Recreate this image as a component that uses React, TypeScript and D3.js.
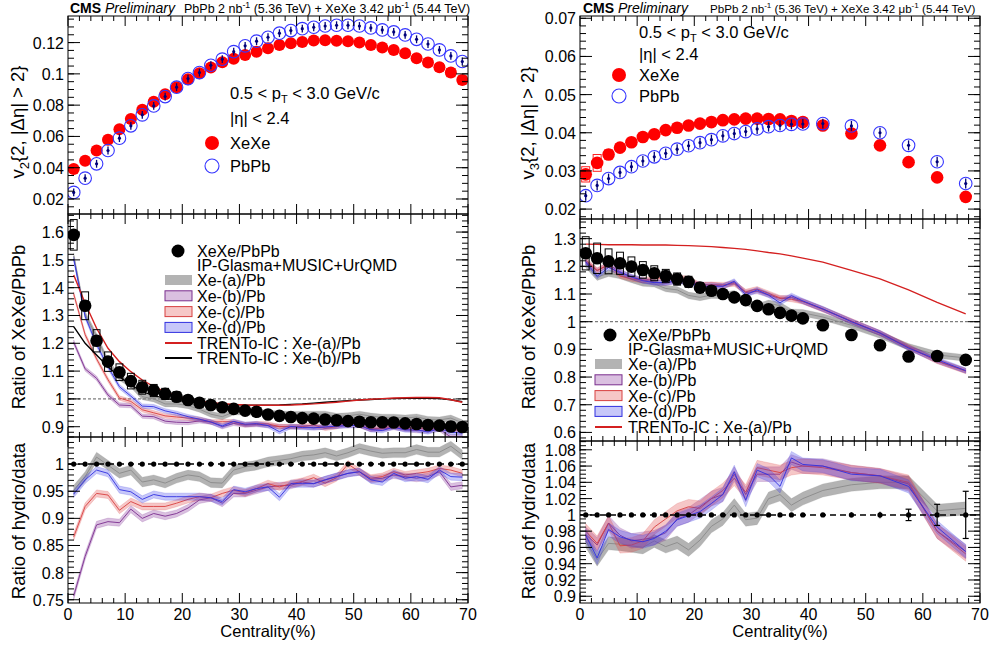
import React, { useRef, useEffect } from 'react';
import * as d3 from 'd3';

const W = 999;
const H = 645;
const FONT = '"Liberation Sans", Arial, Helvetica, sans-serif';

// centrality bin centres (%)
const centL = [1, 3, 5, 7, 9, 11, 13, 15, 17, 19, 21, 23, 25, 27, 29, 31, 33, 35, 37, 39, 41, 43, 45, 47, 49, 51, 53, 55, 57, 59, 61, 63, 65, 67, 69];
const centR = [1, 3, 5, 7, 9, 11, 13, 15, 17, 19, 21, 23, 25, 27, 29, 31, 33, 35, 37, 39, 42.5, 47.5, 52.5, 57.5, 62.5, 67.5];

// tick labels
const centTicks = [0, 10, 20, 30, 40, 50, 60, 70];
const v2Ticks = [0.02, 0.04, 0.06, 0.08, 0.1, 0.12];
const ratioV2Ticks = [0.9, 1, 1.1, 1.2, 1.3, 1.4, 1.5, 1.6];
const hydroV2Ticks = [0.75, 0.8, 0.85, 0.9, 0.95, 1];
const v3Ticks = [0.02, 0.03, 0.04, 0.05, 0.06, 0.07];
const ratioV3Ticks = [0.6, 0.7, 0.8, 0.9, 1, 1.1, 1.2, 1.3];
const hydroV3Ticks = [0.9, 0.92, 0.94, 0.96, 0.98, 1, 1.02, 1.04, 1.06, 1.08];

// ---- v2 (left column) ----
const v2XeXe = [0.0391, 0.0444, 0.051, 0.0578, 0.0646, 0.0712, 0.077, 0.0821, 0.087, 0.0915, 0.0966, 0.1004, 0.104, 0.1074, 0.1096, 0.1121, 0.1142, 0.1164, 0.1185, 0.1196, 0.1204, 0.1213, 0.1215, 0.1211, 0.1209, 0.12, 0.1185, 0.1168, 0.1153, 0.1132, 0.11, 0.1072, 0.1042, 0.1008, 0.0961];
const v2XeXeSys = [0.001, 0.001, 0.001, 0.001, 0.001, 0.001, 0.001, 0.001, 0.001, 0.001, 0.001, 0.001, 0.001, 0.001, 0.001, 0.001, 0.001, 0.001, 0.001, 0.001, 0.001, 0.001, 0.001, 0.001, 0.001, 0.0012, 0.0014, 0.0015, 0.0016, 0.0018, 0.002, 0.0022, 0.0024, 0.0026, 0.0026];
const v2PbPb = [0.0242, 0.0333, 0.0425, 0.051, 0.0589, 0.0668, 0.0738, 0.0795, 0.0855, 0.0915, 0.097, 0.1008, 0.1055, 0.1094, 0.1142, 0.1179, 0.1209, 0.1234, 0.126, 0.1277, 0.1289, 0.1298, 0.1306, 0.1311, 0.1311, 0.1306, 0.1294, 0.1281, 0.1268, 0.1249, 0.1221, 0.1191, 0.1153, 0.1115, 0.1079];
const v2PbErr = 0.0025;

const ratioV2 = [1.59, 1.335, 1.209, 1.134, 1.096, 1.064, 1.042, 1.03, 1.018, 1.008, 0.996, 0.986, 0.978, 0.97, 0.964, 0.958, 0.954, 0.944, 0.939, 0.935, 0.931, 0.929, 0.926, 0.923, 0.92, 0.918, 0.916, 0.916, 0.915, 0.912, 0.91, 0.906, 0.904, 0.901, 0.899];
const ratioV2Sys = [0.055, 0.05, 0.04, 0.035, 0.03, 0.028, 0.025, 0.022, 0.02, 0.018, 0.016, 0.015, 0.014, 0.013, 0.012, 0.011, 0.01, 0.01, 0.01, 0.01, 0.01, 0.01, 0.01, 0.01, 0.01, 0.011, 0.012, 0.012, 0.012, 0.013, 0.014, 0.014, 0.015, 0.016, 0.016];

const v2ModelA = [1.514, 1.304, 1.225, 1.132, 1.077, 1.052, 1.008, 1.0, 0.982, 0.982, 0.976, 0.963, 0.945, 0.936, 0.953, 0.953, 0.952, 0.948, 0.946, 0.944, 0.945, 0.945, 0.945, 0.937, 0.939, 0.945, 0.938, 0.934, 0.934, 0.931, 0.935, 0.926, 0.924, 0.931, 0.914];
const v2ModelB = [1.204, 1.108, 1.074, 1.014, 0.978, 0.976, 0.938, 0.936, 0.92, 0.916, 0.915, 0.921, 0.917, 0.9, 0.912, 0.906, 0.908, 0.904, 0.901, 0.899, 0.9, 0.896, 0.899, 0.902, 0.904, 0.905, 0.89, 0.892, 0.897, 0.891, 0.886, 0.885, 0.891, 0.863, 0.864];
const v2ModelC = [1.377, 1.231, 1.144, 1.069, 1.003, 0.991, 0.961, 0.95, 0.939, 0.935, 0.931, 0.927, 0.917, 0.918, 0.918, 0.907, 0.911, 0.91, 0.9, 0.901, 0.901, 0.906, 0.894, 0.9, 0.92, 0.905, 0.892, 0.895, 0.902, 0.894, 0.895, 0.893, 0.897, 0.891, 0.884];
const v2ModelD = [1.503, 1.296, 1.196, 1.115, 1.044, 1.01, 0.974, 0.972, 0.957, 0.948, 0.936, 0.927, 0.917, 0.903, 0.919, 0.909, 0.911, 0.904, 0.882, 0.901, 0.897, 0.896, 0.899, 0.902, 0.904, 0.905, 0.889, 0.886, 0.899, 0.888, 0.889, 0.881, 0.894, 0.88, 0.877];
const v2TrentoA = [1.446, 1.344, 1.254, 1.182, 1.134, 1.098, 1.068, 1.044, 1.026, 1.012, 1.0, 0.992, 0.987, 0.983, 0.98, 0.978, 0.977, 0.977, 0.977, 0.978, 0.98, 0.982, 0.985, 0.988, 0.992, 0.996, 0.999, 1.001, 1.003, 1.004, 1.005, 1.005, 1.004, 0.997, 0.988];
const v2TrentoB = [1.26, 1.2, 1.158, 1.116, 1.08, 1.05, 1.026, 1.012, 1.002, 0.995, 0.99, 0.986, 0.983, 0.981, 0.98, 0.978, 0.977, 0.977, 0.978, 0.98, 0.982, 0.985, 0.988, 0.991, 0.994, 0.996, 0.998, 1.0, 1.001, 1.002, 1.002, 1.002, 1.001, 0.997, 0.99];

const v2HydroA = [0.952, 0.977, 1.013, 0.998, 0.983, 0.989, 0.967, 0.971, 0.965, 0.974, 0.98, 0.977, 0.966, 0.965, 0.989, 0.995, 0.998, 1.004, 1.007, 1.01, 1.015, 1.017, 1.021, 1.015, 1.021, 1.029, 1.024, 1.02, 1.021, 1.021, 1.027, 1.022, 1.022, 1.033, 1.017];
const v2HydroB = [0.757, 0.83, 0.888, 0.894, 0.892, 0.917, 0.9, 0.909, 0.904, 0.909, 0.919, 0.934, 0.938, 0.928, 0.946, 0.946, 0.952, 0.958, 0.96, 0.961, 0.967, 0.964, 0.971, 0.977, 0.983, 0.986, 0.972, 0.974, 0.98, 0.977, 0.974, 0.977, 0.986, 0.958, 0.961];
const v2HydroC = [0.866, 0.922, 0.946, 0.943, 0.915, 0.931, 0.922, 0.922, 0.922, 0.928, 0.935, 0.94, 0.938, 0.946, 0.952, 0.947, 0.955, 0.964, 0.958, 0.964, 0.968, 0.975, 0.965, 0.975, 1.0, 0.986, 0.974, 0.977, 0.986, 0.98, 0.983, 0.986, 0.992, 0.989, 0.983];
const v2HydroD = [0.945, 0.971, 0.989, 0.983, 0.953, 0.949, 0.935, 0.944, 0.94, 0.94, 0.94, 0.94, 0.938, 0.931, 0.953, 0.949, 0.955, 0.958, 0.939, 0.964, 0.964, 0.964, 0.971, 0.977, 0.983, 0.986, 0.971, 0.967, 0.983, 0.974, 0.977, 0.972, 0.989, 0.977, 0.976];

// ---- v3 (right column) ----
const v3XeXe = [0.0291, 0.0321, 0.0343, 0.0361, 0.0375, 0.0389, 0.0396, 0.0407, 0.0413, 0.0419, 0.0424, 0.0428, 0.0433, 0.0435, 0.0437, 0.0437, 0.0436, 0.0435, 0.0431, 0.0428, 0.0419, 0.0398, 0.0367, 0.0323, 0.0283, 0.0232];
const v3XeXeSys = [0.002, 0.0022, 0.0012, 0.001, 0.0008, 0.0007, 0.0007, 0.0006, 0.0006, 0.0006, 0.0006, 0.0006, 0.0006, 0.0006, 0.0006, 0.0006, 0.0006, 0.0006, 0.0006, 0.0006, 0.0006, 0.0006, 0.0006, 0.0006, 0.0006, 0.0006];
const v3PbPb = [0.0235, 0.0262, 0.028, 0.0296, 0.0311, 0.0326, 0.0337, 0.0346, 0.0357, 0.0366, 0.0374, 0.0382, 0.0392, 0.0398, 0.0403, 0.041, 0.0416, 0.0419, 0.0422, 0.0423, 0.0424, 0.0418, 0.04, 0.0367, 0.0324, 0.0267];
const v3PbErr = 0.0013;

const ratioV3 = [1.247, 1.229, 1.218, 1.211, 1.199, 1.187, 1.175, 1.165, 1.154, 1.144, 1.123, 1.112, 1.1, 1.088, 1.078, 1.057, 1.045, 1.032, 1.022, 1.012, 0.987, 0.952, 0.915, 0.874, 0.876, 0.862];
const ratioV3Sys = [0.06, 0.055, 0.045, 0.04, 0.035, 0.03, 0.027, 0.024, 0.022, 0.02, 0.018, 0.016, 0.014, 0.012, 0.01, 0.01, 0.01, 0.01, 0.01, 0.01, 0.01, 0.01, 0.012, 0.015, 0.01, 0.015];
const ratioV3Err = [0.004, 0.004, 0.004, 0.004, 0.004, 0.004, 0.004, 0.004, 0.004, 0.004, 0.004, 0.004, 0.004, 0.004, 0.004, 0.004, 0.004, 0.004, 0.004, 0.004, 0.005, 0.006, 0.01, 0.012, 0.01, 0.02];

const v3ModelA = [1.207, 1.161, 1.175, 1.167, 1.153, 1.14, 1.137, 1.12, 1.115, 1.095, 1.088, 1.096, 1.095, 1.101, 1.072, 1.053, 1.066, 1.058, 1.034, 1.032, 1.017, 0.987, 0.952, 0.909, 0.88, 0.869];
const v3ModelB = [1.217, 1.184, 1.206, 1.181, 1.161, 1.151, 1.142, 1.139, 1.148, 1.144, 1.134, 1.134, 1.128, 1.142, 1.105, 1.11, 1.097, 1.084, 1.088, 1.073, 1.046, 1.002, 0.959, 0.907, 0.858, 0.823];
const v3ModelC = [1.222, 1.186, 1.206, 1.165, 1.155, 1.149, 1.157, 1.159, 1.16, 1.155, 1.132, 1.134, 1.133, 1.137, 1.108, 1.118, 1.102, 1.086, 1.081, 1.073, 1.044, 1.002, 0.959, 0.909, 0.858, 0.821];
const v3ModelD = [1.216, 1.164, 1.196, 1.178, 1.162, 1.148, 1.141, 1.142, 1.147, 1.143, 1.127, 1.128, 1.128, 1.146, 1.097, 1.115, 1.096, 1.068, 1.094, 1.075, 1.046, 1.0, 0.959, 0.905, 0.863, 0.823];
const v3TrentoA = [1.28, 1.279, 1.278, 1.278, 1.278, 1.277, 1.277, 1.277, 1.276, 1.275, 1.273, 1.271, 1.268, 1.265, 1.261, 1.256, 1.25, 1.245, 1.238, 1.23, 1.215, 1.185, 1.155, 1.115, 1.07, 1.028];

const v3HydroA = [0.968, 0.945, 0.965, 0.964, 0.962, 0.96, 0.968, 0.961, 0.966, 0.957, 0.969, 0.986, 0.995, 1.012, 0.994, 0.996, 1.02, 1.025, 1.012, 1.02, 1.03, 1.037, 1.04, 1.04, 1.005, 1.008];
const v3HydroB = [0.976, 0.963, 0.99, 0.975, 0.968, 0.97, 0.972, 0.978, 0.995, 1.0, 1.01, 1.02, 1.025, 1.05, 1.025, 1.05, 1.05, 1.05, 1.065, 1.06, 1.06, 1.052, 1.048, 1.038, 0.98, 0.955];
const v3HydroC = [0.98, 0.965, 0.99, 0.962, 0.963, 0.968, 0.985, 0.995, 1.005, 1.01, 1.008, 1.02, 1.03, 1.045, 1.028, 1.058, 1.055, 1.052, 1.058, 1.06, 1.058, 1.052, 1.048, 1.04, 0.98, 0.952];
const v3HydroD = [0.975, 0.947, 0.982, 0.973, 0.969, 0.967, 0.971, 0.98, 0.994, 0.999, 1.004, 1.014, 1.025, 1.053, 1.018, 1.055, 1.049, 1.035, 1.07, 1.062, 1.06, 1.05, 1.048, 1.035, 0.985, 0.955];
const v3DataErr = [0.001, 0.001, 0.001, 0.001, 0.001, 0.001, 0.001, 0.001, 0.001, 0.001, 0.001, 0.001, 0.001, 0.001, 0.001, 0.001, 0.001, 0.001, 0.0015, 0.0015, 0.002, 0.003, 0.004, 0.007, 0.013, 0.029];

// model styles
const BAND = {
  a: { fill: 'rgba(128,128,128,0.6)', stroke: '#8a8a8a' },
  b: { fill: 'rgba(140,60,160,0.32)', stroke: '#7a2e8e' },
  c: { fill: 'rgba(225,70,70,0.3)', stroke: '#d84040' },
  d: { fill: 'rgba(70,70,235,0.3)', stroke: '#3030e0' },
};

const fmt = (v: number) => String(parseFloat(v.toFixed(4)));

const App = () => {
  const ref = useRef<SVGSVGElement>(null);

  useEffect(() => {
    if (!ref.current) return;
    const svg = d3.select(ref.current);
    svg.selectAll('*').remove();
    const defs = svg.append('defs');

    // one panel: frame, ticks, labels, clip
    const makePanel = (id: string, xr: number[], yr: number[], dom: number[], ticks: number[], minor: number, showX: boolean) => {
      const x = d3.scaleLinear().domain([0, 70]).range(xr);
      const y = d3.scaleLinear().domain(dom).range([yr[1], yr[0]]);
      defs.append('clipPath').attr('id', id).append('rect')
        .attr('x', xr[0]).attr('y', yr[0]).attr('width', xr[1] - xr[0]).attr('height', yr[1] - yr[0]);
      const g = svg.append('g');
      const inner = g.append('g').attr('clip-path', `url(#${id})`);
      const axes = svg.append('g').attr('stroke', '#000').attr('stroke-width', 1);

      const k0 = Math.ceil(dom[0] / minor - 1e-6);
      const k1 = Math.floor(dom[1] / minor + 1e-6);
      d3.range(k0, k1 + 1).forEach(k => {
        const yy = y(k * minor);
        axes.append('line').attr('x1', xr[0]).attr('x2', xr[0] + 6).attr('y1', yy).attr('y2', yy);
        axes.append('line').attr('x1', xr[1]).attr('x2', xr[1] - 6).attr('y1', yy).attr('y2', yy);
      });
      ticks.forEach(t => {
        const yy = y(t);
        axes.append('line').attr('x1', xr[0]).attr('x2', xr[0] + 12).attr('y1', yy).attr('y2', yy);
        axes.append('line').attr('x1', xr[1]).attr('x2', xr[1] - 12).attr('y1', yy).attr('y2', yy);
        svg.append('text').attr('x', xr[0] - 4).attr('y', yy + 6).attr('text-anchor', 'end')
          .attr('font-family', FONT).attr('font-size', 16).text(fmt(t));
      });
      d3.range(0, 71, 2).forEach(c => {
        const xx = x(c);
        const len = c % 10 === 0 ? 10 : 5;
        axes.append('line').attr('x1', xx).attr('x2', xx).attr('y1', yr[1]).attr('y2', yr[1] - len);
        axes.append('line').attr('x1', xx).attr('x2', xx).attr('y1', yr[0]).attr('y2', yr[0] + len);
      });
      if (showX) {
        centTicks.forEach(c => {
          svg.append('text').attr('x', x(c)).attr('y', yr[1] + 17).attr('text-anchor', 'middle')
            .attr('font-family', FONT).attr('font-size', 16).text(c);
        });
        svg.append('text').attr('x', (xr[0] + xr[1]) / 2).attr('y', 637).attr('text-anchor', 'middle')
          .attr('font-family', FONT).attr('font-size', 16.5).text('Centrality(%)');
      }
      axes.append('rect').attr('x', xr[0]).attr('y', yr[0]).attr('width', xr[1] - xr[0]).attr('height', yr[1] - yr[0])
        .attr('fill', 'none');
      return { x, y, inner };
    };

    const band = (p: any, cs: number[], vals: number[], hw: number, st: any) => {
      const pts = cs.map((c, i) => ({ c, v: vals[i] }));
      p.inner.append('path').datum(pts)
        .attr('d', d3.area<any>().x(d => p.x(d.c)).y0(d => p.y(d.v - hw)).y1(d => p.y(d.v + hw)))
        .attr('fill', st.fill).attr('stroke', st.stroke).attr('stroke-opacity', 0.3).attr('stroke-width', 0.6);
      p.inner.append('path').datum(pts)
        .attr('d', d3.line<any>().x(d => p.x(d.c)).y(d => p.y(d.v)))
        .attr('fill', 'none').attr('stroke', st.stroke).attr('stroke-width', 0.9);
    };

    const line = (p: any, cs: number[], vals: number[], color: string, w: number) => {
      const pts = cs.map((c, i) => ({ c, v: vals[i] }));
      p.inner.append('path').datum(pts)
        .attr('d', d3.line<any>().x(d => p.x(d.c)).y(d => p.y(d.v)))
        .attr('fill', 'none').attr('stroke', color).attr('stroke-width', w);
    };

    const sysBoxes = (p: any, cs: number[], vals: number[], sys: number[], color: string, hwx: number) => {
      cs.forEach((c, i) => {
        p.inner.append('rect').attr('x', p.x(c - hwx)).attr('width', p.x(c + hwx) - p.x(c - hwx))
          .attr('y', p.y(vals[i] + sys[i])).attr('height', p.y(vals[i] - sys[i]) - p.y(vals[i] + sys[i]))
          .attr('fill', 'none').attr('stroke', color).attr('stroke-width', 1);
      });
    };

    const filled = (p: any, cs: number[], vals: number[], color: string, r: number) => {
      cs.forEach((c, i) => {
        p.inner.append('circle').attr('cx', p.x(c)).attr('cy', p.y(vals[i])).attr('r', r).attr('fill', color);
      });
    };

    const errBars = (p: any, cs: number[], vals: number[], errs: number[], color: string, cap: number) => {
      cs.forEach((c, i) => {
        const xx = p.x(c);
        const ya = p.y(vals[i] + errs[i]);
        const yb = p.y(vals[i] - errs[i]);
        p.inner.append('line').attr('x1', xx).attr('x2', xx).attr('y1', ya).attr('y2', yb)
          .attr('stroke', color).attr('stroke-width', 1.2);
        if (cap > 0 && yb - ya > 8) {
          [ya, yb].forEach(yy => p.inner.append('line').attr('x1', xx - cap).attr('x2', xx + cap)
            .attr('y1', yy).attr('y2', yy).attr('stroke', color).attr('stroke-width', 1.2));
        }
      });
    };

    const openPb = (p: any, cs: number[], vals: number[], err: number) => {
      cs.forEach((c, i) => {
        const xx = p.x(c);
        const yy = p.y(vals[i]);
        p.inner.append('circle').attr('cx', xx).attr('cy', yy).attr('r', 6.3)
          .attr('fill', 'none').attr('stroke', '#3535ff').attr('stroke-width', 1.1);
        p.inner.append('line').attr('x1', xx).attr('x2', xx).attr('y1', p.y(vals[i] + err)).attr('y2', p.y(vals[i] - err))
          .attr('stroke', '#00007a').attr('stroke-width', 1.3);
        p.inner.append('circle').attr('cx', xx).attr('cy', yy).attr('r', 1.6).attr('fill', '#00007a');
      });
    };

    const unity = (p: any, dash: string, w: number, color: string) => {
      const [x0, x1] = p.x.range();
      p.inner.append('line').attr('x1', x0).attr('x2', x1).attr('y1', p.y(1)).attr('y2', p.y(1))
        .attr('stroke', color).attr('stroke-width', w).attr('stroke-dasharray', dash);
    };

    const text = (x: number, y: number, s: string, size = 16) =>
      svg.append('text').attr('x', x).attr('y', y).attr('font-family', FONT).attr('font-size', size).text(s);

    const ptText = (x: number, y: number) => {
      const t = svg.append('text').attr('x', x).attr('y', y).attr('font-family', FONT).attr('font-size', 16.5);
      t.append('tspan').text('0.5 < p');
      t.append('tspan').attr('dy', 4).attr('font-size', 11).text('T');
      t.append('tspan').attr('dy', -4).text(' < 3.0 GeV/c');
    };

    const yTitle = (x: number, yc: number, parts: [string, boolean][]) => {
      const t = svg.append('text').attr('transform', `translate(${x},${yc}) rotate(-90)`)
        .attr('text-anchor', 'middle').attr('font-family', FONT).attr('font-size', 18.5);
      let sub = false;
      parts.forEach(([s, isSub]) => {
        const ts = t.append('tspan').text(s);
        if (isSub && !sub) ts.attr('dy', 5).attr('font-size', 13);
        if (!isSub && sub) ts.attr('dy', -5);
        sub = isSub;
      });
    };

    const header = (x: number, restX: number, restSize: number) => {
      const t = svg.append('text').attr('x', x).attr('y', 13).attr('font-family', FONT);
      t.append('tspan').attr('font-weight', 'bold').attr('font-size', 14).text('CMS ');
      t.append('tspan').attr('font-style', 'italic').attr('font-size', 14).text('Preliminary');
      const r = svg.append('text').attr('x', restX).attr('y', 13).attr('font-family', FONT).attr('font-size', restSize);
      r.append('tspan').text('PbPb 2 nb');
      r.append('tspan').attr('dy', -5).attr('font-size', restSize * 0.7).text('-1');
      r.append('tspan').attr('dy', 5).text(' (5.36 TeV) + XeXe 3.42 \u03bcb');
      r.append('tspan').attr('dy', -5).attr('font-size', restSize * 0.7).text('-1');
      r.append('tspan').attr('dy', 5).text(' (5.44 TeV)');
    };

    const legendBox = (x: number, yc: number, st: any, bordered: boolean) => {
      svg.append('rect').attr('x', x).attr('y', yc - 5).attr('width', 27).attr('height', 10)
        .attr('fill', st.fill).attr('stroke', bordered ? st.stroke : 'none').attr('stroke-width', 1);
    };
    const legendLine = (x: number, yc: number, color: string) => {
      svg.append('line').attr('x1', x).attr('x2', x + 27).attr('y1', yc).attr('y2', yc)
        .attr('stroke', color).attr('stroke-width', 2);
    };

    const modelLegend = (mx: number, bx: number, tx: number, y0: number, trentoB: boolean) => {
      svg.append('circle').attr('cx', mx).attr('cy', y0).attr('r', 6.5).attr('fill', '#000');
      text(tx, y0 + 6, 'XeXe/PbPb');
      text(tx, y0 + 20, 'IP-Glasma+MUSIC+UrQMD');
      const names = ['Xe-(a)/Pb', 'Xe-(b)/Pb', 'Xe-(c)/Pb', 'Xe-(d)/Pb'];
      const styles = [BAND.a, BAND.b, BAND.c, BAND.d];
      names.forEach((n, i) => {
        const yc = y0 + 29 + i * 15.8;
        legendBox(bx, yc, styles[i], i > 0);
        text(tx, yc + 6, n);
      });
      legendLine(bx, y0 + 92, '#d42020');
      text(tx, y0 + 98, 'TRENTo-IC : Xe-(a)/Pb');
      if (trentoB) {
        legendLine(bx, y0 + 107, '#000');
        text(tx, y0 + 113, 'TRENTo-IC : Xe-(b)/Pb');
      }
    };

    // ================= left column =================
    const LX = [68, 468];
    const pV2 = makePanel('cV2', LX, [16, 214], [0.0104, 0.137], v2Ticks, 0.005, false);
    sysBoxes(pV2, centL, v2XeXe, v2XeXeSys, '#ff2020', 0.7);
    filled(pV2, centL, v2XeXe, '#ff0000', 6);
    openPb(pV2, centL, v2PbPb, v2PbErr);

    const pR2 = makePanel('cR2', LX, [214, 437], [0.863, 1.665], ratioV2Ticks, 0.02, false);
    unity(pR2, '3,2', 0.8, '#333');
    band(pR2, centL, v2ModelA, 0.011, BAND.a);
    band(pR2, centL, v2ModelB, 0.008, BAND.b);
    band(pR2, centL, v2ModelC, 0.008, BAND.c);
    band(pR2, centL, v2ModelD, 0.008, BAND.d);
    line(pR2, centL, v2TrentoB, '#000', 1.4);
    line(pR2, centL, v2TrentoA, '#d42020', 1.4);
    sysBoxes(pR2, centL, ratioV2, ratioV2Sys, '#000', 0.6);
    filled(pR2, centL, ratioV2, '#000', 6.3);

    const pH2 = makePanel('cH2', LX, [437, 603], [0.744, 1.05], hydroV2Ticks, 0.01, true);
    band(pH2, centL, v2HydroA, 0.009, BAND.a);
    band(pH2, centL, v2HydroB, 0.0065, BAND.b);
    band(pH2, centL, v2HydroC, 0.0065, BAND.c);
    band(pH2, centL, v2HydroD, 0.0065, BAND.d);
    unity(pH2, '6,4', 1.5, '#000');
    filled(pH2, centL, centL.map(() => 1), '#000', 2.6);

    // ================= right column =================
    const RX = [580, 980];
    const pV3 = makePanel('cV3', RX, [16, 219], [0.0174, 0.0706], v3Ticks, 0.002, false);
    sysBoxes(pV3, centR, v3XeXe, v3XeXeSys, '#ff2020', 0.7);
    filled(pV3, centR, v3XeXe, '#ff0000', 6.3);
    openPb(pV3, centR, v3PbPb, v3PbErr);

    const pR3 = makePanel('cR3', RX, [219, 441], [0.569, 1.371], ratioV3Ticks, 0.02, false);
    unity(pR3, '3,2', 0.8, '#333');
    band(pR3, centR, v3ModelA, 0.012, BAND.a);
    band(pR3, centR, v3ModelB, 0.009, BAND.b);
    band(pR3, centR, v3ModelC, 0.009, BAND.c);
    band(pR3, centR, v3ModelD, 0.009, BAND.d);
    line(pR3, centR, v3TrentoA, '#d42020', 1.3);
    sysBoxes(pR3, centR, ratioV3, ratioV3Sys, '#000', 0.6);
    errBars(pR3, centR, ratioV3, ratioV3Err, '#000', 0);
    filled(pR3, centR, ratioV3, '#000', 6.3);

    const pH3 = makePanel('cH3', RX, [441, 603], [0.8917, 1.0908], hydroV3Ticks, 0.005, true);
    band(pH3, centR, v3HydroA, 0.008, BAND.a);
    band(pH3, centR, v3HydroB, 0.009, BAND.b);
    band(pH3, centR, v3HydroC, 0.009, BAND.c);
    band(pH3, centR, v3HydroD, 0.008, BAND.d);
    unity(pH3, '6,4', 1.5, '#000');
    errBars(pH3, centR, centR.map(() => 1), v3DataErr, '#000', 3);
    filled(pH3, centR, centR.map(() => 1), '#000', 2.6);

    // ================= texts & legends =================
    header(70, 184, 12.5);
    header(583, 710, 11.6);

    ptText(230, 99);
    text(230, 124, '|\u03b7| < 2.4', 16.5);
    svg.append('circle').attr('cx', 212).attr('cy', 143).attr('r', 7).attr('fill', '#ff0000');
    text(230, 149, 'XeXe', 16.5);
    svg.append('circle').attr('cx', 212).attr('cy', 166).attr('r', 7).attr('fill', 'none').attr('stroke', '#3535ff').attr('stroke-width', 1.1);
    text(230, 172, 'PbPb', 16.5);

    ptText(639, 38);
    text(639, 60, '|\u03b7| < 2.4', 16.5);
    svg.append('circle').attr('cx', 619).attr('cy', 75).attr('r', 7).attr('fill', '#ff0000');
    text(639, 81, 'XeXe', 16.5);
    svg.append('circle').attr('cx', 619).attr('cy', 96).attr('r', 7).attr('fill', 'none').attr('stroke', '#3535ff').attr('stroke-width', 1.1);
    text(639, 102, 'PbPb', 16.5);

    modelLegend(178, 165, 197, 251, true);
    modelLegend(610, 595, 628, 335, false);

    yTitle(24, 122, [['v', false], ['2', true], ['{2, |\u0394\u03b7| > 2}', false]]);
    yTitle(25, 327, [['Ratio of XeXe/PbPb', false]]);
    yTitle(25, 521, [['Ratio of hydro/data', false]]);
    yTitle(534, 123, [['v', false], ['3', true], ['{2, |\u0394\u03b7| > 2}', false]]);
    yTitle(535, 327, [['Ratio of XeXe/PbPb', false]]);
    yTitle(535, 521, [['Ratio of hydro/data', false]]);
  }, []);

  return (
    <svg ref={ref} width={W} height={H}
      style={{ position: 'absolute', left: 0, top: 0, background: '#fff' }} />
  );
};

export default App;
